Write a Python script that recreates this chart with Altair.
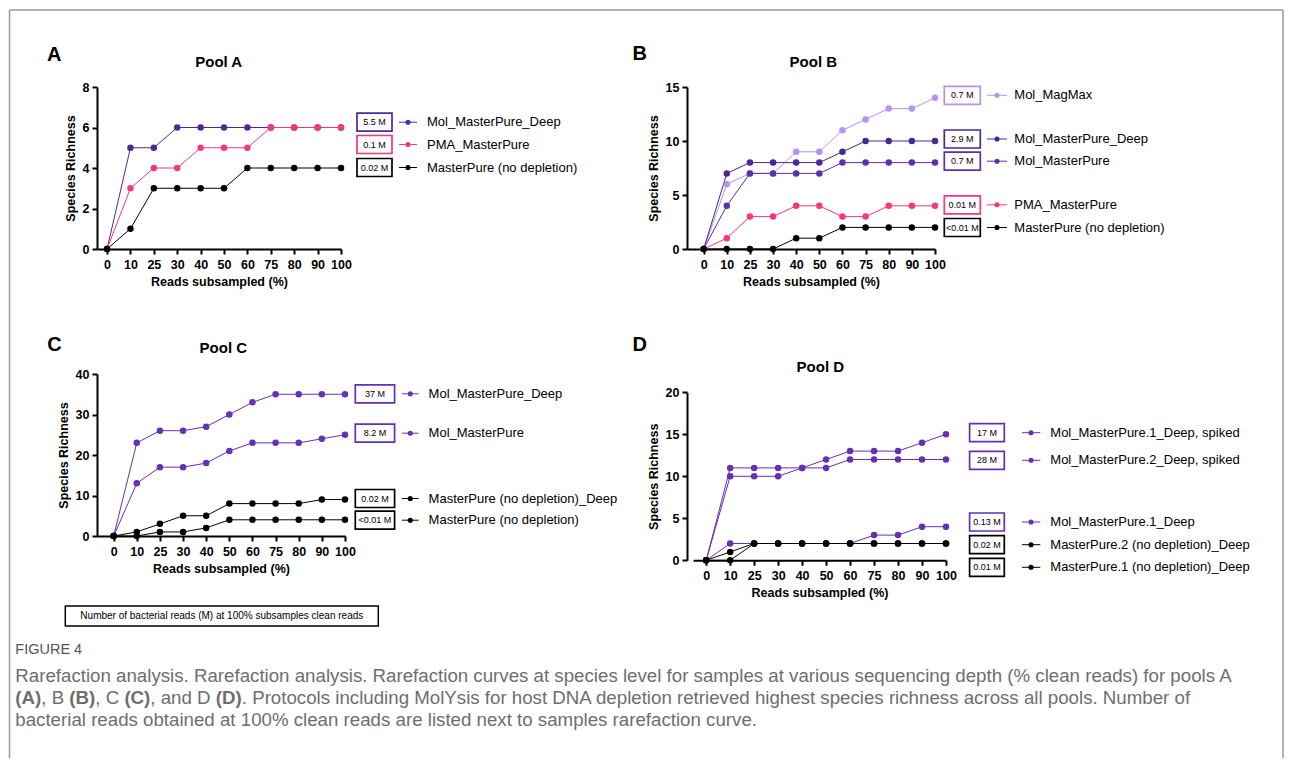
import json
import altair as alt
import pandas as pd

# ---------------- data ----------------
X_LABELS = ["0", "10", "25", "30", "40", "50", "60", "75", "80", "90", "100"]

A_SERIES = ["Mol_MasterPure_Deep", "PMA_MasterPure", "MasterPure (no depletion)"]
A_READS = ["5.5 M", "0.1 M", "0.02 M"]
A_VALUES = [
    [0, 5, 5, 6, 6, 6, 6, 6, 6, 6, 6],
    [0, 3, 4, 4, 5, 5, 5, 6, 6, 6, 6],
    [0, 1, 3, 3, 3, 3, 4, 4, 4, 4, 4],
]
A_COLORS = ["#4B2A9B", "#F5387C", "#000000"]

B_SERIES = ["Mol_MagMax", "Mol_MasterPure_Deep", "Mol_MasterPure",
            "PMA_MasterPure", "MasterPure (no depletion)"]
B_READS = ["0.7 M", "2.9 M", "0.7 M", "0.01 M", "<0.01 M"]
B_VALUES = [
    [0, 6, 7, 7, 9, 9, 11, 12, 13, 13, 14],
    [0, 7, 8, 8, 8, 8, 9, 10, 10, 10, 10],
    [0, 4, 7, 7, 7, 7, 8, 8, 8, 8, 8],
    [0, 1, 3, 3, 4, 4, 3, 3, 4, 4, 4],
    [0, 0, 0, 0, 1, 1, 2, 2, 2, 2, 2],
]
B_COLORS = ["#B692F2", "#48298F", "#5A30AE", "#F5387C", "#000000"]

C_SERIES = ["Mol_MasterPure_Deep", "Mol_MasterPure",
            "MasterPure (no depletion)_Deep", "MasterPure (no depletion)"]
C_READS = ["37 M", "8.2 M", "0.02 M", "<0.01 M"]
C_VALUES = [
    [0, 23, 26, 26, 27, 30, 33, 35, 35, 35, 35],
    [0, 13, 17, 17, 18, 21, 23, 23, 23, 24, 25],
    [0, 1, 3, 5, 5, 8, 8, 8, 8, 9, 9],
    [0, 0, 1, 1, 2, 4, 4, 4, 4, 4, 4],
]
C_COLORS = ["#6530B4", "#6530B4", "#000000", "#000000"]

D_SERIES = ["Mol_MasterPure.1_Deep, spiked", "Mol_MasterPure.2_Deep, spiked",
            "Mol_MasterPure.1_Deep", "MasterPure.2 (no depletion)_Deep",
            "MasterPure.1 (no depletion)_Deep"]
D_READS = ["17 M", "28 M", "0.13 M", "0.02 M", "0.01 M"]
D_VALUES = [
    [0, 10, 10, 10, 11, 12, 13, 13, 13, 14, 15],
    [0, 11, 11, 11, 11, 11, 12, 12, 12, 12, 12],
    [0, 2, 2, 2, 2, 2, 2, 3, 3, 4, 4],
    [0, 1, 2, 2, 2, 2, 2, 2, 2, 2, 2],
    [0, 0, 2, 2, 2, 2, 2, 2, 2, 2, 2],
]
D_COLORS = ["#6530B4", "#6530B4", "#6530B4", "#000000", "#000000"]

NOTE = "Number of bacterial reads (M) at 100% subsamples clean reads"
FIG_LABEL = "FIGURE 4"
CAP_L1 = ("Rarefaction analysis. Rarefaction analysis. Rarefaction curves at species level "
          "for samples at various sequencing depth (% clean reads) for pools A")
CAP_L2 = [("(A)", True), (", B ", False), ("(B)", True), (", C ", False), ("(C)", True),
          (", and D ", False), ("(D)", True),
          (". Protocols including MolYsis for host DNA depletion retrieved highest species "
           "richness across all pools. Number of", False)]
CAP_L3 = "bacterial reads obtained at 100% clean reads are listed next to samples rarefaction curve."

# ---------------- layout ----------------
FONT = "Liberation Sans"
LAY_A = dict(w=244, h=162, ox=0, oy=0, xpad=0.43, ymax=8, yticks=[0, 2, 4, 6, 8],
             rows=[35.2, 57.5, 80.5], box=(260, 295), line=(302, 320), dot=311,
             text=330, letter=(-42.8, -33), tpos=(121.7, -25.5), title="Pool A", name="A")
LAY_B = dict(w=248, h=162, ox=0, oy=0, xpad=0.72, ymax=15, yticks=[0, 5, 10, 15],
             rows=[8.3, 52, 74.2, 117.8, 140.5], box=(257.3, 293.3), line=(300, 320),
             dot=310, text=327.3, letter=(-47.4, -34.6), tpos=(126.3, -25.8),
             title="Pool B", name="B")
LAY_C = dict(w=248, h=162, ox=0, oy=0, xpad=0.72, ymax=40, yticks=[0, 10, 20, 30, 40],
             rows=[19.8, 59.2, 124.5, 146.2], box=(258.3, 297.6), line=(305, 321.6),
             dot=313.3, text=331.6, letter=(-42.5, -30), tpos=(126.3, -26),
             title="Pool C", name="C")
# panel D sits 6px right and 18px lower than its grid cell
LAY_D = dict(w=253, h=168, ox=6, oy=18.3, xpad=0.55, ymax=20, yticks=[0, 5, 10, 15, 20],
             rows=[40.4, 68, 129.7, 152.4, 175], box=(276.6, 311.3), line=(329, 347.3),
             dot=338, text=357.3, letter=(-53.4, -48.3), tpos=(127.3, -25.6),
             title="Pool D", name="D")
BOX_H = 18

LABEL_EXPR = json.dumps(X_LABELS) + "[datum.value]"
ONE = pd.DataFrame({"k": [0]})

# Arial / Liberation Sans advance widths (1/1000 em)
_REG = {" ": 278, "(": 333, ")": 333, ",": 278, ".": 278, "%": 889, "-": 333, "_": 556,
        "A": 667, "B": 667, "C": 722, "D": 722, "E": 667, "F": 611, "G": 778, "H": 722,
        "I": 278, "M": 833, "N": 722, "P": 667, "R": 722, "S": 667, "U": 722, "Y": 667,
        "a": 556, "b": 556, "c": 500, "d": 556, "e": 556, "f": 278, "g": 556, "h": 556,
        "i": 222, "j": 222, "k": 500, "l": 222, "m": 833, "n": 556, "o": 556, "p": 556,
        "q": 556, "r": 333, "s": 500, "t": 278, "u": 556, "v": 500, "w": 722, "x": 500,
        "y": 500, "z": 500}
_BOLD = {"(": 333, ")": 333, "A": 722, "B": 722, "C": 722, "D": 722}


def text_w(s, size, bold=False):
    tot = 0
    for ch in s:
        if bold and ch in _BOLD:
            tot += _BOLD[ch]
        elif ch.isdigit():
            tot += 556
        else:
            tot += _REG.get(ch, 556)
    return tot * size / 1000.0


def panel(series, reads, values, colors, lay, extra=()):
    ox, oy = lay["ox"], lay["oy"]
    rows = []
    for s, vals in zip(series, values):
        for i, v in enumerate(vals):
            rows.append({"series": s, "idx": i, "value": v})
    df = pd.DataFrame(rows)
    cscale = alt.Scale(domain=series, range=colors)
    color = alt.Color("series:N", scale=cscale, legend=None)
    x = alt.X("idx:Q",
              scale=alt.Scale(domain=[-lay["xpad"], 10], nice=False, zero=False,
                              range=[ox, ox + lay["w"]]),
              axis=alt.Axis(values=list(range(11)), labelExpr=LABEL_EXPR, labelOverlap=False,
                            labelFlush=False, title="Reads subsampled (%)",
                            labelPadding=4, titlePadding=5))
    y = alt.Y("value:Q",
              scale=alt.Scale(domain=[0, lay["ymax"]], nice=False,
                              range=[oy + lay["h"], oy]),
              axis=alt.Axis(values=lay["yticks"], title="Species Richness",
                            labelPadding=3, titlePadding=5, labelFlush=False))
    base = alt.Chart(df)
    lines = base.mark_line(strokeWidth=1).encode(x=x, y=y, color=color, detail="series:N")
    points = base.mark_point(filled=True, size=42, opacity=1).encode(x=x, y=y, color=color)

    leg = pd.DataFrame({"series": series, "reads": reads,
                        "ly": [r + oy for r in lay["rows"]]})
    ly = alt.Y("ly:Q", scale=None, axis=None)
    lb = alt.Chart(leg)
    l_rule = lb.mark_rule(strokeWidth=1).encode(
        x=alt.value(lay["line"][0] + ox), x2=alt.value(lay["line"][1] + ox), y=ly, color=color)
    l_dot = lb.mark_point(filled=True, size=26, opacity=1).encode(
        x=alt.value(lay["dot"] + ox), y=ly, color=color)
    l_box = lb.transform_calculate(
        y1=f"datum.ly - {BOX_H / 2}", y2=f"datum.ly + {BOX_H / 2}"
    ).mark_rect(fill="white", strokeWidth=1.7).encode(
        x=alt.value(lay["box"][0] + ox), x2=alt.value(lay["box"][1] + ox),
        y=alt.Y("y1:Q", scale=None, axis=None), y2="y2:Q",
        stroke=alt.Stroke("series:N", scale=cscale, legend=None))
    l_boxtext = lb.mark_text(font=FONT, fontSize=9, color="black", baseline="middle").encode(
        x=alt.value((lay["box"][0] + lay["box"][1]) / 2 + ox), y=ly, text="reads:N")
    l_text = lb.mark_text(font=FONT, fontSize=13, color="black", align="left",
                          baseline="middle").encode(
        x=alt.value(lay["text"] + ox), y=ly, text="series:N")
    letter = alt.Chart(ONE).mark_text(
        text=lay["name"], font=FONT, fontSize=20, fontWeight="bold", color="black",
        baseline="alphabetic").encode(
        x=alt.value(lay["letter"][0] + ox), y=alt.value(lay["letter"][1] + oy + 7.2))
    title = alt.Chart(ONE).mark_text(
        text=lay["title"], font=FONT, fontSize=15, fontWeight="bold", color="black",
        baseline="alphabetic").encode(
        x=alt.value(lay["tpos"][0] + ox), y=alt.value(lay["tpos"][1] + oy + 5.4))

    layers = [lines, points, l_rule, l_dot, l_box, l_boxtext, l_text, letter, title]
    layers += list(extra)
    return alt.layer(*layers).properties(width=lay["w"] + ox, height=lay["h"] + oy)


# frame (drawn inside panel A, relative to its plot origin)
FR_L, FR_T, FR_R, FR_B = -87.5, -77, 1186, 671
frame = [
    alt.Chart(ONE).mark_rule(color="#9a9a9a", strokeWidth=1.5).encode(
        x=alt.value(FR_L), x2=alt.value(FR_R), y=alt.value(FR_T)),
    alt.Chart(ONE).mark_rule(color="#9a9a9a", strokeWidth=1.5).encode(
        x=alt.value(FR_L), y=alt.value(FR_T), y2=alt.value(FR_B)),
    alt.Chart(ONE).mark_rule(color="#9a9a9a", strokeWidth=1.5).encode(
        x=alt.value(FR_R), y=alt.value(FR_T), y2=alt.value(FR_B)),
]

# caption (drawn inside panel C, relative to its plot origin)
CAP_X = -81.7
CAP_Y = [276, 302, 324, 346]
CAP_SIZE = round(1218 / text_w(CAP_L1, 1.0), 2)
CAP_COLOR = "#6e6e6e"
cap = [
    alt.Chart(ONE).mark_rect(fill="white", stroke="black", strokeWidth=1.5).encode(
        x=alt.value(-31.7), x2=alt.value(281.3), y=alt.value(232), y2=alt.value(252)),
    alt.Chart(ONE).mark_text(text=NOTE, font=FONT, fontSize=10, color="black",
                             baseline="middle").encode(
        x=alt.value(124.8), y=alt.value(242)),
    alt.Chart(ONE).mark_text(text=FIG_LABEL, font=FONT, fontSize=14.5, color="#555555",
                             align="left", baseline="middle").encode(
        x=alt.value(CAP_X), y=alt.value(CAP_Y[0])),
    alt.Chart(ONE).mark_text(text=CAP_L1, font=FONT, fontSize=CAP_SIZE, color=CAP_COLOR,
                             align="left", baseline="middle").encode(
        x=alt.value(CAP_X), y=alt.value(CAP_Y[1])),
    alt.Chart(ONE).mark_text(text=CAP_L3, font=FONT, fontSize=CAP_SIZE, color=CAP_COLOR,
                             align="left", baseline="middle").encode(
        x=alt.value(CAP_X), y=alt.value(CAP_Y[3])),
]
cx = CAP_X
for seg, bold in CAP_L2:
    cap.append(alt.Chart(ONE).mark_text(
        text=seg, font=FONT, fontSize=CAP_SIZE, color=CAP_COLOR, align="left",
        baseline="middle", fontWeight="bold" if bold else "normal").encode(
        x=alt.value(round(cx, 2)), y=alt.value(CAP_Y[2])))
    cx += text_w(seg, CAP_SIZE, bold)

pA = panel(A_SERIES, A_READS, A_VALUES, A_COLORS, LAY_A, extra=frame)
pB = panel(B_SERIES, B_READS, B_VALUES, B_COLORS, LAY_B)
pC = panel(C_SERIES, C_READS, C_VALUES, C_COLORS, LAY_C, extra=cap)
pD = panel(D_SERIES, D_READS, D_VALUES, D_COLORS, LAY_D)

chart = alt.concat(
    pA, pB, pC, pD, columns=2, bounds="flush",
    spacing={"row": 125, "column": 342}, padding=0
).resolve_scale(
    color="independent", stroke="independent"
).configure_view(
    stroke="transparent"
).configure_axis(
    domainColor="black", domainWidth=2, tickColor="black", tickWidth=2, tickSize=5,
    labelFont=FONT, labelFontWeight="bold", labelFontSize=12.5, labelColor="black",
    titleFont=FONT, titleFontWeight="bold", titleFontSize=12.5, titleColor="black",
    grid=False
)

chart.save("out.html", embed_options={"renderer": "svg", "actions": False})
